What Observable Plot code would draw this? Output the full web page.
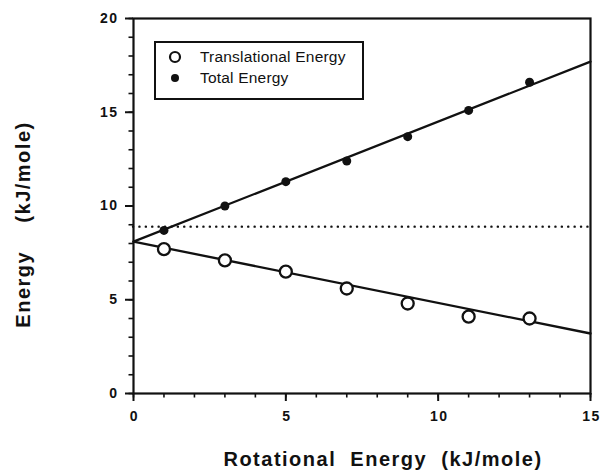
<!DOCTYPE html>
<html>
<head>
<meta charset="utf-8">
<script src="https://cdn.jsdelivr.net/npm/d3@7"></script>
<script src="https://cdn.jsdelivr.net/npm/@observablehq/plot@0.6"></script>
<style>
  html, body { margin: 0; padding: 0; background: #fff; }
  #wrap { position: relative; width: 601px; height: 470px; font-family: "Liberation Sans", Arial, sans-serif; }
  #wrap svg text { white-space: pre; }
  #wrap svg g[aria-label="text"] text { letter-spacing: 1.5px; }
  #legend {
    position: absolute; left: 154px; top: 41px; width: 206px; height: 55px;
    border: 2px solid #111; background: #fff; box-sizing: content-box;
  }
  #legend .row { position: absolute; left: 0; height: 16px; display: flex; align-items: center; }
  #legend .sym { position: absolute; left: 12px; width: 14px; height: 16px; }
  #legend .lab { position: absolute; left: 44px; font-size: 15.5px; white-space: nowrap; color: #111; letter-spacing: 0.2px; }
</style>
</head>
<body>
<div id="wrap"></div>
<script>
// Measured energies versus rotational energy
const rotational = [1, 3, 5, 7, 9, 11, 13];
const translational = [7.7, 7.1, 6.5, 5.6, 4.8, 4.1, 4.0];
const total = [8.7, 10.0, 11.3, 12.4, 13.7, 15.1, 16.6];

// Straight-line fits through each series, and the reference level
const fitX = [0, 15];
const translationalFit = [8.1, 3.2];
const totalFit = [8.1, 17.7];
const referenceLevel = 8.9;

// Axis ticks
const xMajor = [0, 5, 10, 15];
const xMinor = d3.range(0, 16);
const yMajor = [0, 5, 10, 15, 20];
const yMinor = d3.range(0, 21);

const seriesNames = ["Translational Energy", "Total Energy"];
const xLabel = "Rotational  Energy  (kJ/mole)";
const yLabel = "Energy    (kJ/mole)";

const points = rotational.map((r, i) => ({r, trans: translational[i], tot: total[i]}));
const fits = fitX.map((x, i) => ({x, trans: translationalFit[i], tot: totalFit[i]}));

const ink = "#111";

const chart = Plot.plot({
  width: 601,
  height: 470,
  marginLeft: 133,
  marginRight: 11,
  marginTop: 18,
  marginBottom: 77,
  style: {fontFamily: "'Liberation Sans', Arial, sans-serif", color: ink, background: "#fff"},
  x: {domain: [0, 15]},
  y: {domain: [0, 20]},
  marks: [
    Plot.frame({stroke: ink, strokeWidth: 2.2}),
    // minor ticks
    Plot.axisX({ticks: xMinor, tickSize: 4.5, tickFormat: () => "", label: null, stroke: ink, strokeWidth: 1.6}),
    Plot.axisY({ticks: yMinor, tickSize: 4.5, tickFormat: () => "", label: null, stroke: ink, strokeWidth: 1.6}),
    // major ticks
    Plot.axisX({ticks: xMajor, tickSize: 8, tickFormat: () => "", label: null, stroke: ink, strokeWidth: 2}),
    Plot.axisY({ticks: yMajor, tickSize: 8, tickFormat: () => "", label: null, stroke: ink, strokeWidth: 2}),
    // major tick labels
    Plot.text(xMajor, {x: (d) => d, frameAnchor: "bottom", textAnchor: "middle", lineAnchor: "middle", dy: 23, dx: 1,
      text: d3.format("d"), fontSize: 14, fontWeight: "bold", fill: ink}),
    Plot.text(yMajor, {y: (d) => d, frameAnchor: "left", textAnchor: "end", lineAnchor: "middle", dx: -15,
      text: d3.format("d"), fontSize: 14, fontWeight: "bold", fill: ink}),
    // reference level
    Plot.ruleY([referenceLevel], {x1: 0, x2: 15, stroke: ink, strokeWidth: 2.4, strokeDasharray: "0.1 6.3", strokeLinecap: "round"}),
    // fit lines
    Plot.line(fits, {x: "x", y: "tot", stroke: ink, strokeWidth: 2.3}),
    Plot.line(fits, {x: "x", y: "trans", stroke: ink, strokeWidth: 2.3}),
    // data points
    Plot.dot(points, {x: "r", y: "tot", r: 4.5, fill: ink, stroke: "none"}),
    Plot.dot(points, {x: "r", y: "trans", r: 6, fill: "#fff", stroke: ink, strokeWidth: 2.3}),
    // axis titles
    Plot.text([xLabel], {frameAnchor: "bottom", textAnchor: "middle", lineAnchor: "middle", dy: 66, dx: 21,
      fontSize: 20, fontWeight: "bold", fill: ink}),
    Plot.text([yLabel], {frameAnchor: "left", textAnchor: "middle", lineAnchor: "middle", dx: -110, dy: 18.5, rotate: -90,
      fontSize: 20, fontWeight: "bold", fill: ink})
  ]
});

const wrap = document.getElementById("wrap");
wrap.appendChild(chart);

// Legend box inside the plot area
const legend = document.createElement("div");
legend.id = "legend";
const symbols = [
  `<svg class="sym" viewBox="0 0 14 16"><circle cx="7" cy="8" r="5" fill="#fff" stroke="${ink}" stroke-width="2.2"/></svg>`,
  `<svg class="sym" viewBox="0 0 14 16"><circle cx="7" cy="8" r="4" fill="${ink}"/></svg>`
];
seriesNames.forEach((name, i) => {
  const row = document.createElement("div");
  row.className = "row";
  row.style.top = (6 + i * 21) + "px";
  row.style.width = "100%";
  row.innerHTML = symbols[i] + `<span class="lab">${name}</span>`;
  legend.appendChild(row);
});
wrap.appendChild(legend);
</script>
</body>
</html>
